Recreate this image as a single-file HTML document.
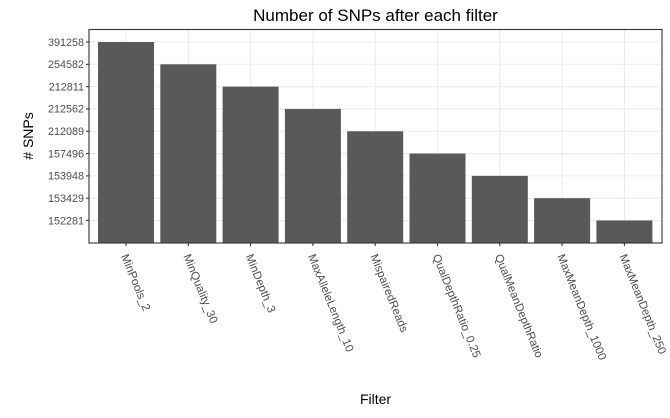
<!DOCTYPE html>
<html><head><meta charset="utf-8"><style>
body{margin:0;background:#fff;}
svg text{font-family:"Liberation Sans",sans-serif;}
</style></head><body>
<svg id="chart" width="670" height="413"></svg>
<script>
const categories=["MinPools_2","MinQuality_30","MinDepth_3","MaxAlleleLength_10","MispairedReads","QualDepthRatio_0.25","QualMeanDepthRatio","MaxMeanDepth_1000","MaxMeanDepth_250"];
const values=[391258,254582,212811,212562,212089,157496,153948,153429,152281];
const yLevels=[152281,153429,153948,157496,212089,212562,212811,254582,391258];
const svg=document.getElementById('chart');
const NS='http://www.w3.org/2000/svg';
const L=89,R=662,T=29.5,B=243;
const step=22.31;
function y(v){const i=yLevels.indexOf(v)+1;return B-0.2-i*step;}
const xStep=62.3;
function x(i){return 126+i*xStep;}
const bw=56;
function mk(tag,attrs,parent){const e=document.createElementNS(NS,tag);for(const k in attrs)e.setAttribute(k,attrs[k]);(parent||svg).appendChild(e);return e;}
yLevels.forEach(v=>{const l=mk('line',{x1:L,x2:R,y1:y(v),y2:y(v),stroke:'#ebebeb','stroke-width':1.1});

});
categories.forEach((c,i)=>{const l=mk('line',{x1:x(i),x2:x(i),y1:T,y2:B,stroke:'#ebebeb','stroke-width':1.1});

});
categories.forEach((c,i)=>{const yy=y(values[i]);const r=mk('rect',{x:x(i)-bw/2,y:yy,width:bw,height:B-yy,fill:'#595959'});

});
const pb=mk('rect',{x:L,y:T,width:R-L,height:B-T,fill:'none',stroke:'#333','stroke-width':1.1});


yLevels.forEach(v=>{mk('line',{x1:L-3,x2:L,y1:y(v),y2:y(v),stroke:'#333','stroke-width':1.1});
const t=mk('text',{x:L-5,y:y(v)+3.8,'text-anchor':'end','font-size':10.8,fill:'#4d4d4d'});t.textContent=v;

});
categories.forEach((c,i)=>{mk('line',{x1:x(i),x2:x(i),y1:B,y2:B+3,stroke:'#333','stroke-width':1.1});
const t=mk('text',{x:0,y:0,'font-size':11.5,fill:'#4d4d4d',transform:`translate(${x(i)-5},${B+13}) rotate(68)`});t.textContent=c;

});
const ti=mk('text',{x:375.5,y:21,'text-anchor':'middle','font-size':17,fill:'#000'});ti.textContent='Number of SNPs after each filter';


const xt=mk('text',{x:375.5,y:404,'text-anchor':'middle','font-size':14,fill:'#000'});xt.textContent='Filter';


const yt=mk('text',{x:0,y:0,'text-anchor':'middle','font-size':14,fill:'#000',transform:`translate(33,136) rotate(-90)`});yt.textContent='# SNPs';


</script>
</body></html>
